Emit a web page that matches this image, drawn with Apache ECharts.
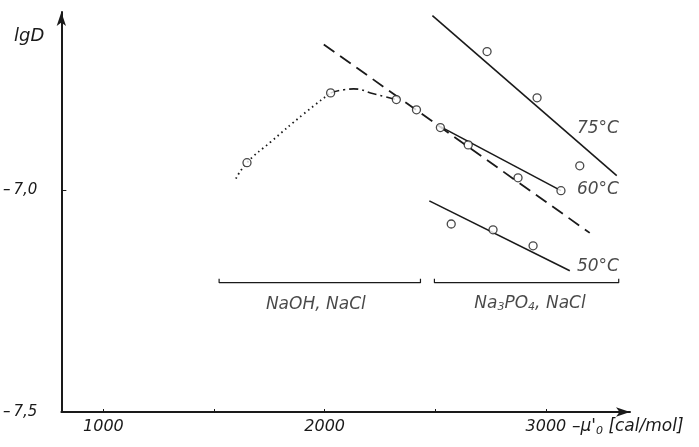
<!DOCTYPE html>
<html>
<head>
<meta charset="utf-8">
<script src="https://cdn.jsdelivr.net/npm/echarts@6/dist/echarts.min.js"></script>
<style>
  html, body { margin: 0; padding: 0; background: #fff; }
  #chart { width: 699px; height: 447px; }
</style>
</head>
<body>
<div id="chart"></div>
<script>
// values: x = -mu'0 [cal/mol], y = lg D
const dottedCurve = [[1599, -6.975], [1649, -6.939], [1757, -6.892], [1906, -6.829], [2027, -6.782]]
const dashDotCurve = [[2027, -6.782], [2131, -6.773], [2221, -6.784], [2324, -6.797]]
const dashedLine = [[1996, -6.673], [3198, -7.097]]
const line75 = [[2487, -6.608], [3320, -6.968]]
const line60 = [[2523, -6.858], [3068, -7.002]]
const line50 = [[2473, -7.025], [3108, -7.182]]

const points = [
  [1649, -6.939], [2027, -6.782], [2324, -6.797], [2415, -6.820], [2523, -6.860],
  [2734, -6.689], [2960, -6.793], [3153, -6.946],
  [2649, -6.899], [2874, -6.973], [3068, -7.002],
  [2572, -7.077], [2761, -7.090], [2942, -7.126]
]

const bracketNaOH = [[1523, -7.200], [1523, -7.209], [2433, -7.209], [2433, -7.200]]
const bracketPO4 = [[2496, -7.200], [2496, -7.209], [3329, -7.209], [3329, -7.200]]

const xTicks = [1000, 1500, 2000, 2500, 3000]
const xLabels = [1000, 2000, 3000]
const yTicks = [-7.0, -7.5]

const notes = [
  [3235, -6.862, '75°C'],
  [3235, -7.000, '60°C'],
  [3235, -7.173, '50°C'],
  [1960, -7.259, 'NaOH, NaCl'],
  [2928, -7.255, 'Na{s|3}PO{s|4}, NaCl']
]

const ink = '#1a1a1a'
const font = 'DejaVu Sans'

function lineSeries(data, type, width) {
  return {
    type: 'line',
    data: data,
    symbol: 'none',
    smooth: data.length > 2,
    lineStyle: { color: ink, width: width, type: type },
    z: 2
  }
}

const chart = echarts.init(document.getElementById('chart'))
chart.setOption({
  animation: false,
  backgroundColor: '#fff',
  grid: { left: 60, right: 69, top: 12, bottom: 35 },
  xAxis: {
    type: 'value',
    min: 810,
    max: 3380,
    splitLine: { show: false },
    axisLine: { lineStyle: { color: ink, width: 2 }, symbol: ['none', 'arrow'], symbolSize: [7, 14] },
    axisTick: { inside: true, length: 3, customValues: xTicks, lineStyle: { color: ink } },
    axisLabel: {
      customValues: xLabels,
      margin: 7,
      color: ink,
      fontSize: 16,
      fontStyle: 'italic',
      fontFamily: font,
      formatter: v => String(v)
    }
  },
  yAxis: {
    type: 'value',
    min: -7.5,
    max: -6.6,
    splitLine: { show: false },
    axisLine: { lineStyle: { color: ink, width: 2 }, symbol: ['none', 'arrow'], symbolSize: [7, 14] },
    axisTick: { inside: true, length: 5, customValues: yTicks, lineStyle: { color: ink } },
    axisLabel: {
      customValues: yTicks,
      margin: 24,
      color: ink,
      fontSize: 15,
      fontStyle: 'italic',
      fontFamily: font,
      formatter: v => '–\u2009' + v.toFixed(1).replace('-', '').replace('.', ',')
    }
  },
  graphic: [
    {
      type: 'text', left: 14, top: 27,
      style: { text: 'lgD', fill: ink, font: 'italic 18px "DejaVu Sans"' }
    },
    {
      type: 'text', left: 572, top: 418,
      style: {
        text: '–μ\'{s|0} [cal/mol]',
        fill: ink,
        font: 'italic 17px "DejaVu Sans"',
        rich: { s: { fontSize: 11, fontStyle: 'italic', fontFamily: font, padding: [9, 0, 0, 0] } }
      }
    }
  ],
  series: [
    lineSeries(dottedCurve, [1.5, 3.5], 1.8),
    lineSeries(dashDotCurve, [9, 4, 2, 4], 1.6),
    lineSeries(dashedLine, [13, 7], 1.8),
    lineSeries(line75, 'solid', 1.6),
    lineSeries(line60, 'solid', 1.6),
    lineSeries(line50, 'solid', 1.6),
    lineSeries(bracketNaOH, 'solid', 1.2),
    lineSeries(bracketPO4, 'solid', 1.2),
    {
      type: 'scatter',
      data: points,
      symbol: 'circle',
      symbolSize: 8,
      itemStyle: { color: '#fff', borderColor: ink, borderWidth: 1.3 },
      z: 3
    },
    {
      type: 'scatter',
      data: notes.map(n => ({ value: [n[0], n[1]], name: n[2] })),
      symbolSize: 0,
      silent: true,
      label: {
        show: true,
        position: 'inside',
        formatter: p => p.name,
        color: ink,
        fontSize: 17,
        fontStyle: 'italic',
        fontFamily: font,
        rich: { s: { fontSize: 11, fontStyle: 'italic', fontFamily: font, padding: [9, 0, 0, 0] } }
      },
      z: 4
    }
  ]
})
</script>
</body>
</html>
